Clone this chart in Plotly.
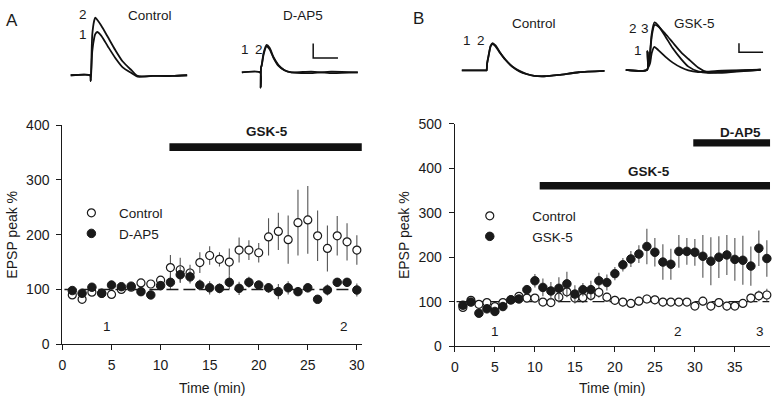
import plotly.graph_objects as go

W, H = 779, 406

# ---------------- data ----------------
time_A = list(range(1, 31))
control_A = [90, 82, 95, 93, 91, 100, 104, 112, 110, 117, 140, 136, 130, 149, 162,
             155, 150, 172, 172, 167, 196, 206, 191, 222, 227, 198, 175, 198, 187, 172]
control_A_err = [5, 5, 5, 5, 5, 5, 5, 6, 6, 6, 23, 22, 15, 19, 17,
                 13, 25, 23, 18, 18, 34, 34, 44, 60, 62, 46, 42, 36, 34, 27]
dap5_A = [98, 93, 104, 93, 108, 105, 106, 96, 90, 107, 113, 127, 123, 108, 103,
          102, 113, 102, 113, 108, 103, 96, 103, 96, 103, 82, 99, 113, 113, 99]
dap5_A_err = [6, 6, 6, 5, 8, 6, 6, 6, 5, 8, 12, 15, 12, 10, 12,
              9, 12, 12, 10, 8, 9, 14, 12, 6, 8, 5, 10, 8, 8, 12]

time_B = list(range(1, 40))
control_B = [87, 103, 94, 98, 89, 98, 104, 112, 108, 108, 99, 98, 110, 122, 108,
             109, 114, 121, 110, 103, 99, 96, 101, 106, 104, 99, 99, 99, 99, 90,
             101, 90, 98, 90, 90, 96, 108, 113, 115]
control_B_err = [6, 6, 6, 6, 6, 6, 6, 8, 8, 8, 8, 8, 12, 12, 12,
                 12, 12, 12, 10, 10, 10, 10, 10, 10, 10, 10, 9, 9, 9, 9,
                 10, 10, 10, 10, 9, 9, 10, 12, 14]
gsk5_B = [92, 99, 74, 84, 78, 89, 104, 106, 127, 147, 132, 124, 130, 140, 117,
          127, 127, 147, 143, 163, 183, 196, 207, 224, 211, 189, 184, 213, 213, 211,
          202, 191, 200, 205, 195, 193, 180, 220, 197]
gsk5_B_err = [8, 8, 8, 10, 8, 10, 6, 8, 10, 15, 20, 20, 25, 27, 20,
              15, 20, 18, 18, 15, 15, 18, 20, 40, 32, 40, 35, 37, 30, 30,
              48, 54, 47, 45, 48, 55, 44, 40, 41]

x_ticks_A = [0, 5, 10, 15, 20, 25, 30]
y_ticks_A = [0, 100, 200, 300, 400]
x_ticks_B = [0, 5, 10, 15, 20, 25, 30, 35]
y_ticks_B = [0, 100, 200, 300, 400, 500]

baseline_pct = 100
gsk_bar_A = (10.9, 30.9)       # minutes
gsk_bar_B = (10.6, 39.4)
dap5_bar_B = (29.8, 39.7)

sample_labels_A = [("1", 4.5), ("2", 28.7)]
sample_labels_B = [("1", 5.0), ("2", 27.9), ("3", 38.2)]

# example EPSP traces (ms, mV)
insA_ctrl_t = [-16, -0.3, 0.2, 1.4, 3.0, 3.8, 5.4, 8.6, 14, 20, 26, 33, 38, 50, 66, 78]
insA_ctrl_1 = [0, 0, -0.8, 3.3, 5.2, 5.7, 6.0, 5.5, 4.0, 2.4, 1.1, 0.3, -0.2, -0.1, -0.1, 0]
insA_ctrl_2 = [0, 0, -0.8, 5.6, 7.6, 8.0, 7.7, 6.9, 5.3, 3.5, 1.9, 0.7, -0.1, -0.1, -0.1, 0]

insA_dap_t = [-15.2, -0.4, 0, 0.3, 0.8, 2.4, 4.8, 7.2, 10.4, 14.4, 19.2, 24.8, 40.8, 56.8, 78.4]
insA_dap_1 = [0, 0, -2.1, 0.7, 0.9, 2.5, 3.6, 3.2, 2.0, 0.9, 0.3, 0, 0.1, -0.1, 0]
insA_dap_2 = [0, 0, -2.1, 0.7, 1.0, 2.7, 3.8, 3.4, 2.1, 1.0, 0.3, 0, -0.1, 0.1, 0]

insB_ctrl_t = [-20.6, -0.4, 0, 0.4, 1.6, 3.3, 4.9, 7.4, 10.7, 15.6, 21.4, 27.2, 32.9,
               39.5, 47.7, 60.1, 76.5, 97.9]
insB_ctrl_1 = [0, 0, 0, 1.5, 3.2, 5.4, 5.9, 5.4, 4.1, 2.4, 0.9, -0.1, -0.75, -1.2, -1.3, -1.0, -0.4, -0.1]
insB_ctrl_2 = [0, 0, 0, 1.5, 3.3, 5.5, 6.1, 5.6, 4.2, 2.4, 0.8, -0.2, -0.8, -1.2, -1.3, -1.0, -0.4, -0.1]

insB_gsk_t = [-18, -0.3, 0.05, 0.6, 2.2, 3.6, 5.8, 9, 15, 21, 28, 34, 42, 50, 58, 94]
insB_gsk_1 = [0, 0, 4.1, 0.5, 1.5, 3.8, 5.1, 4.4, 2.9, 1.6, 0.5, -0.15, -0.5, -0.4, -0.25, 0]
insB_gsk_2 = [0, 0, 4.1, 0.5, 4.0, 8.2, 10.6, 9.9, 7.4, 4.8, 2.4, 0.7, -0.35, -0.7, -0.5, 0]
insB_gsk_3 = [0, 0, 4.1, 0.5, 3.8, 7.6, 10.0, 9.7, 8.0, 6.1, 3.9, 2.4, 0.5, -0.6, -0.7, 0]

scale_ms, scale_mv = 20, 2

# ---------------- layout helpers ----------------
FONT = "Liberation Sans, Arial, sans-serif"
INK = "#1a1a1a"


def px_x(p):
    return p / W


def px_y(p):
    return 1 - p / H


def inset_axes(x0px, x1px, stim_px, base_px, ms_per_px, mv_per_px):
    xr = [(x0px - stim_px) * ms_per_px, (x1px - stim_px) * ms_per_px]
    yr = [(base_px - 100) * mv_per_px, base_px * mv_per_px]
    xa = dict(domain=[px_x(x0px), px_x(x1px)], range=xr, visible=False, fixedrange=True)
    ya = dict(domain=[px_y(100), 1], range=yr, visible=False, fixedrange=True)
    return xa, ya


fig = go.Figure()

# main data A
fig.add_trace(go.Scatter(
    x=time_A, y=control_A, mode="markers", name="\u00a0\u00a0Control",
    marker=dict(symbol="circle", size=8, color="white", line=dict(color=INK, width=1.2)),
    error_y=dict(type="data", array=control_A_err, width=0, thickness=1.1, color="#555"),
    xaxis="x", yaxis="y", legend="legend", cliponaxis=False))
fig.add_trace(go.Scatter(
    x=time_A, y=dap5_A, mode="markers", name="\u00a0\u00a0D-AP5",
    marker=dict(symbol="circle", size=8.5, color=INK, line=dict(color=INK, width=1)),
    error_y=dict(type="data", array=dap5_A_err, width=0, thickness=1.1, color="#555"),
    xaxis="x", yaxis="y", legend="legend", cliponaxis=False))

# main data B
fig.add_trace(go.Scatter(
    x=time_B, y=control_B, mode="markers", name="\u00a0" * 6 + "Control",
    marker=dict(symbol="circle", size=8, color="white", line=dict(color=INK, width=1.2)),
    error_y=dict(type="data", array=control_B_err, width=0, thickness=1.1, color="#555"),
    xaxis="x2", yaxis="y2", legend="legend2", cliponaxis=False))
fig.add_trace(go.Scatter(
    x=time_B, y=gsk5_B, mode="markers", name="\u00a0" * 6 + "GSK-5",
    marker=dict(symbol="circle", size=8.5, color=INK, line=dict(color=INK, width=1)),
    error_y=dict(type="data", array=gsk5_B_err, width=0, thickness=1.1, color="#555"),
    xaxis="x2", yaxis="y2", legend="legend2", cliponaxis=False))

# inset traces
trace_line = dict(color="#111", width=1.8, shape="spline", smoothing=0.6)
for t, v, ax in [(insA_ctrl_t, insA_ctrl_1, 3), (insA_ctrl_t, insA_ctrl_2, 3),
                 (insA_dap_t, insA_dap_1, 4), (insA_dap_t, insA_dap_2, 4),
                 (insB_ctrl_t, insB_ctrl_1, 5), (insB_ctrl_t, insB_ctrl_2, 5),
                 (insB_gsk_t, insB_gsk_1, 6), (insB_gsk_t, insB_gsk_2, 6),
                 (insB_gsk_t, insB_gsk_3, 6)]:
    fig.add_trace(go.Scatter(x=t, y=v, mode="lines", line=trace_line, showlegend=False,
                             hoverinfo="skip", xaxis=f"x{ax}", yaxis=f"y{ax}"))

# scale bars
for ax, x0, y0 in [(4, 42.4, 2.0), (6, 76.0, 3.93)]:
    fig.add_trace(go.Scatter(x=[x0, x0, x0 + scale_ms], y=[y0 + scale_mv, y0, y0],
                             mode="lines", line=dict(color="#111", width=1.5),
                             showlegend=False, hoverinfo="skip",
                             xaxis=f"x{ax}", yaxis=f"y{ax}"))

# axes
axis_common = dict(showline=True, linecolor=INK, linewidth=1.4, ticks="outside",
                   ticklen=5, tickwidth=1.3, tickcolor=INK, showgrid=False,
                   zeroline=False, tickfont=dict(family=FONT, size=14, color=INK),
                   fixedrange=True)

layout_axes = dict(
    xaxis=dict(domain=[px_x(59), px_x(361)], range=[0, 30.5], tickvals=x_ticks_A,
               anchor="y", ticklabelstandoff=3, **axis_common),
    yaxis=dict(domain=[px_y(350), px_y(122)], range=[0, 400], tickvals=y_ticks_A,
               anchor="x", ticklabelstandoff=4, **axis_common),
    xaxis2=dict(domain=[px_x(455), px_x(773)], range=[0, 39.4], tickvals=x_ticks_B,
                anchor="y2", ticklabelstandoff=3, **axis_common),
    yaxis2=dict(domain=[px_y(352), px_y(120.5)], range=[0, 500], tickvals=y_ticks_B,
                anchor="x2", ticklabelstandoff=4, **axis_common),
)
for i, args in [(3, (60, 200, 87.3, 70, 0.8, 0.1333)),
                (4, (230, 380, 259, 67, 0.8, 0.1333)),
                (5, (455, 620, 487, 65, 0.823, 0.215)),
                (6, (620, 779, 649.3, 64.3, 0.823, 0.215))]:
    xa, ya = inset_axes(*args)
    xa["anchor"] = f"y{i}"
    ya["anchor"] = f"x{i}"
    layout_axes[f"xaxis{i}"] = xa
    layout_axes[f"yaxis{i}"] = ya

shapes = [
    dict(type="line", xref="x", yref="y", x0=0.2, x1=30, y0=baseline_pct, y1=baseline_pct,
         line=dict(color=INK, width=1.4, dash="12px,5px"), layer="below"),
    dict(type="line", xref="x2", yref="y2", x0=0.2, x1=39.3, y0=baseline_pct, y1=baseline_pct,
         line=dict(color=INK, width=1.4, dash="12px,5px"), layer="below"),
    dict(type="rect", xref="x", yref="y", x0=gsk_bar_A[0], x1=gsk_bar_A[1], y0=353, y1=367,
         fillcolor="#111", line=dict(width=0)),
    dict(type="rect", xref="x2", yref="y2", x0=gsk_bar_B[0], x1=gsk_bar_B[1], y0=352, y1=369,
         fillcolor="#111", line=dict(width=0)),
    dict(type="rect", xref="x2", yref="y2", x0=dap5_bar_B[0], x1=dap5_bar_B[1], y0=449, y1=465,
         fillcolor="#111", line=dict(width=0)),
]


def ann(text, x, y, xref, yref, size=13.5, bold=False, **kw):
    d = dict(text=f"<b>{text}</b>" if bold else text, x=x, y=y, xref=xref, yref=yref,
             xanchor="center", yanchor="middle",
             showarrow=False, font=dict(family=FONT, size=size, color=INK))
    d.update(kw)
    return d


annotations = [
    ann("A", px_x(8.5), px_y(12.5), "paper", "paper", size=17),
    ann("B", px_x(418), px_y(11), "paper", "paper", size=17),
    ann("GSK-5", 20.8, 389, "x", "y", bold=True),
    ann("GSK-5", 24.3, 392, "x2", "y2", bold=True),
    ann("D-AP5", 35.7, 481, "x2", "y2", bold=True),
    ann("EPSP peak %", px_x(8), px_y(236), "paper", "paper", size=14, textangle=-90),
    ann("EPSP peak %", px_x(403), px_y(236), "paper", "paper", size=14, textangle=-90),
    ann("Time (min)", px_x(210), px_y(395.5), "paper", "paper", size=14),
    ann("Time (min)", px_x(614), px_y(395.5), "paper", "paper", size=14),
    # inset labels
    ann("2", -5.8, 8.4, "x3", "y3"), ann("1", -5.8, 5.6, "x3", "y3"),
    ann("Control", 47.8, 8.3, "x3", "y3"),
    ann("1", -12.8, 3.2, "x4", "y4"), ann("2", -1.6, 3.2, "x4", "y4"),
    ann("D-AP5", 34.4, 7.9, "x4", "y4"),
    ann("1", -16.7, 6.8, "x5", "y5"), ann("2", -4.4, 6.8, "x5", "y5"),
    ann("Control", 39.5, 10.5, "x5", "y5"),
    ann("2", -11.8, 9.2, "x6", "y6"), ann("3", -2.1, 9.2, "x6", "y6"),
    ann("1", -7.7, 4.3, "x6", "y6"),
    ann("GSK-5", 39.0, 10.4, "x6", "y6"),
]
for txt, t in sample_labels_A:
    annotations.append(ann(txt, t, 32, "x", "y"))
for txt, t in sample_labels_B:
    annotations.append(ann(txt, t, 34, "x2", "y2"))

fig.update_layout(
    width=W, height=H, autosize=False,
    margin=dict(l=0, r=0, t=0, b=0, pad=0),
    paper_bgcolor="white", plot_bgcolor="white",
    font=dict(family=FONT, color=INK),
    showlegend=True,
    legend=dict(x=px_x(68), y=px_y(224.4), xanchor="left", yanchor="middle",
                bgcolor="rgba(0,0,0,0)", font=dict(family=FONT, size=13.5, color=INK),
                tracegroupgap=0, itemclick=False),
    legend2=dict(x=px_x(470), y=px_y(227.5), xanchor="left", yanchor="middle",
                 bgcolor="rgba(0,0,0,0)", font=dict(family=FONT, size=13.5, color=INK),
                 tracegroupgap=0, itemclick=False),
    shapes=shapes, annotations=annotations,
    **layout_axes,
)

fig.write_html(
    "out.html",
    config={"displayModeBar": False, "responsive": False},
    post_script=("document.documentElement.style.margin='0';"
                 "document.body.style.margin='0';"
                 "document.documentElement.style.overflow='hidden';"
                 "document.body.style.overflow='hidden';"),
)
